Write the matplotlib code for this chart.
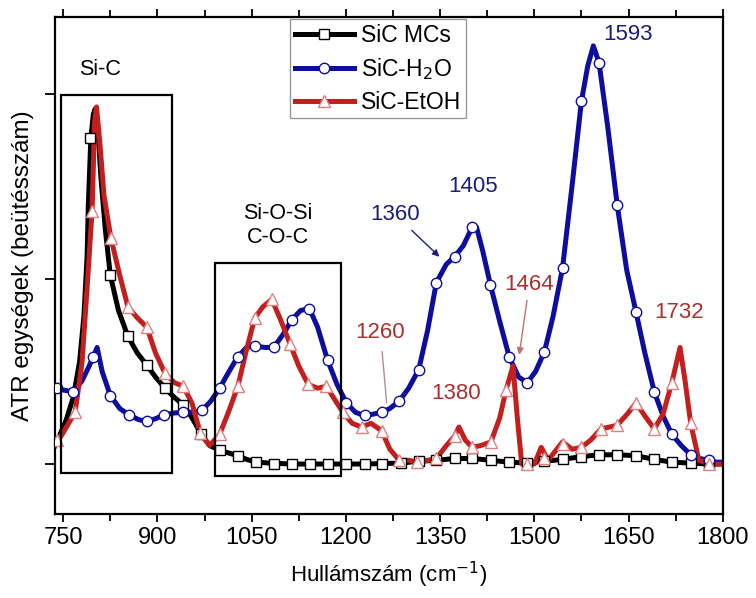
import numpy as np
import matplotlib
matplotlib.use('Agg')
from matplotlib import pyplot as plt
from matplotlib.lines import Line2D
from matplotlib.patches import Rectangle

plt.rcParams['font.family'] = ['Liberation Sans', 'DejaVu Sans']

''' Data read off the spectrum '''
# SiC MCs (black, squares)
mcs_x = [737, 745, 755, 766, 776, 783, 788, 790, 794, 798, 801, 805, 810, 817, 825, 838,
         853, 868, 883, 897, 912, 927, 941, 955, 970, 983, 999, 1013, 1028, 1042, 1057,
         1080, 1114, 1171, 1230, 1287, 1316, 1344, 1373, 1401, 1431, 1460, 1489, 1516,
         1545, 1575, 1603, 1632, 1662, 1691, 1719, 1749, 1778, 1800]
mcs_y = [0.10, 0.16, 0.24, 0.36, 0.55, 0.80, 1.12, 1.40, 1.76, 1.89, 1.92, 1.82, 1.55, 1.27,
         1.02, 0.83, 0.69, 0.60, 0.535, 0.47, 0.41, 0.36, 0.32, 0.25, 0.16, 0.10, 0.075, 0.06,
         0.045, 0.025, 0.01, 0.005, 0.0, 0.0, 0.0, 0.005, 0.015, 0.02, 0.03, 0.03, 0.02,
         0.01, 0.005, 0.015, 0.025, 0.04, 0.05, 0.05, 0.045, 0.025, 0.01, 0.005, 0.0, 0.0]
mcs_mx = [793, 825, 853, 883, 912, 941, 970, 999, 1028, 1057, 1085, 1114, 1143, 1171, 1201,
          1230, 1258, 1287, 1316, 1344, 1373, 1401, 1431, 1460, 1489, 1516, 1545, 1575,
          1603, 1632, 1662, 1691, 1719, 1749, 1778]
mcs_my = [1.76, 1.02, 0.69, 0.535, 0.41, 0.32, 0.16, 0.075, 0.045, 0.01, 0.0, 0.0, 0.0, 0.0,
          0.0, 0.0, 0.0, 0.005, 0.015, 0.02, 0.03, 0.03, 0.02, 0.01, 0.005, 0.015, 0.025,
          0.04, 0.05, 0.05, 0.045, 0.025, 0.01, 0.005, 0.0]

# SiC-H2O (blue, circles)
h2o_x = [737, 750, 766, 780, 790, 798, 804, 812, 825, 840, 855, 870, 883, 897, 910, 925,
         940, 955, 971, 985, 999, 1014, 1028, 1042, 1055, 1070, 1085, 1100, 1114, 1128,
         1142, 1155, 1171, 1186, 1201, 1215, 1230, 1244, 1257, 1270, 1285, 1300, 1316,
         1330, 1344, 1360, 1373, 1387, 1401, 1408, 1418, 1430, 1445, 1460, 1475, 1489,
         1502, 1516, 1530, 1545, 1560, 1575, 1585, 1594, 1603, 1617, 1632, 1647, 1662,
         1676, 1691, 1705, 1719, 1734, 1749, 1763, 1778, 1790, 1800]
h2o_y = [0.40, 0.40, 0.39, 0.45, 0.52, 0.58, 0.63, 0.50, 0.37, 0.30, 0.265, 0.24, 0.23,
         0.245, 0.265, 0.275, 0.28, 0.28, 0.29, 0.34, 0.41, 0.50, 0.58, 0.63, 0.64, 0.63,
         0.63, 0.70, 0.78, 0.83, 0.84, 0.74, 0.56, 0.43, 0.33, 0.28, 0.26, 0.27, 0.28, 0.30,
         0.34, 0.41, 0.51, 0.72, 0.98, 1.08, 1.12, 1.18, 1.28, 1.28, 1.15, 0.97, 0.77, 0.58,
         0.47, 0.44, 0.50, 0.605, 0.80, 1.06, 1.50, 1.96, 2.15, 2.26, 2.17, 1.82, 1.40, 1.05,
         0.82, 0.60, 0.39, 0.26, 0.16, 0.10, 0.05, 0.03, 0.02, 0.01, 0.01]
h2o_mx = [740, 766, 798, 825, 855, 883, 910, 940, 971, 999, 1028, 1055, 1085, 1114, 1142,
          1171, 1201, 1230, 1257, 1285, 1316, 1344, 1373, 1401, 1430, 1460, 1489, 1516,
          1545, 1575, 1603, 1632, 1662, 1691, 1719, 1749, 1778]
h2o_my = [0.41, 0.39, 0.58, 0.37, 0.265, 0.23, 0.265, 0.28, 0.29, 0.41, 0.58, 0.64, 0.63,
          0.78, 0.84, 0.56, 0.33, 0.265, 0.28, 0.34, 0.51, 0.98, 1.12, 1.28, 0.97, 0.58,
          0.44, 0.605, 1.06, 1.96, 2.17, 1.40, 0.82, 0.39, 0.16, 0.05, 0.02]

# SiC-EtOH (red, triangles)
etoh_x = [737, 750, 769, 780, 788, 796, 800, 803, 808, 815, 826, 840, 853, 868, 883, 897,
          912, 927, 941, 955, 968, 983, 999, 1013, 1028, 1042, 1055, 1068, 1082, 1096,
          1111, 1125, 1140, 1155, 1169, 1182, 1195, 1210, 1225, 1240, 1257, 1270, 1285,
          1300, 1314, 1330, 1344, 1360, 1373, 1380, 1390, 1401, 1415, 1431, 1445, 1455,
          1466, 1473, 1480, 1500, 1511, 1522, 1545, 1560, 1575, 1590, 1606, 1620, 1632,
          1648, 1662, 1676, 1691, 1705, 1719, 1732, 1740, 1749, 1762, 1780, 1800]
etoh_y = [0.10, 0.17, 0.28, 0.55, 0.95, 1.37, 1.85, 1.93, 1.75, 1.45, 1.22, 1.02, 0.85,
          0.79, 0.74, 0.60, 0.49, 0.44, 0.42, 0.33, 0.17, 0.10, 0.16, 0.28, 0.42, 0.62, 0.79,
          0.85, 0.89, 0.78, 0.65, 0.53, 0.43, 0.41, 0.42, 0.35, 0.28, 0.22, 0.20, 0.22, 0.18,
          0.08, 0.02, 0.02, 0.01, 0.02, 0.03, 0.10, 0.15, 0.20, 0.13, 0.09, 0.10, 0.12, 0.25,
          0.40, 0.53, 0.25, 0.0, 0.0, 0.09, 0.02, 0.12, 0.08, 0.09, 0.13, 0.19, 0.20, 0.21,
          0.27, 0.33, 0.26, 0.19, 0.27, 0.44, 0.63, 0.45, 0.22, 0.02, 0.0, 0.0]
etoh_mx = [740, 769, 796, 826, 853, 883, 912, 941, 968, 999, 1028, 1055, 1082, 1111, 1140,
           1169, 1195, 1225, 1257, 1285, 1314, 1344, 1373, 1401, 1431, 1455, 1489, 1516,
           1545, 1575, 1606, 1632, 1662, 1691, 1719, 1749, 1778]
etoh_my = [0.13, 0.28, 1.37, 1.22, 0.85, 0.74, 0.49, 0.42, 0.17, 0.16, 0.42, 0.79, 0.89,
           0.65, 0.43, 0.42, 0.28, 0.20, 0.18, 0.02, 0.01, 0.03, 0.15, 0.09, 0.12, 0.40, 0.0,
           0.03, 0.11, 0.09, 0.19, 0.21, 0.33, 0.19, 0.44, 0.22, 0.0]

''' Styles '''
BLACK = '#000000'
BLUE = '#0d0d9e'
RED = '#c41f1f'
BLUE_TXT = '#1c1c7a'
RED_TXT = '#a8302e'

fig = plt.figure(figsize=(7.56, 5.98), dpi=100)
ax = fig.add_axes([0.0728, 0.1405, 0.8832, 0.8311])

series = [
    (mcs_x, mcs_y, mcs_mx, mcs_my, BLACK, 's', 6.5, 'SiC MCs'),
    (h2o_x, h2o_y, h2o_mx, h2o_my, BLUE, 'o', 7.5, 'SiC-H$_2$O'),
    (etoh_x, etoh_y, etoh_mx, etoh_my, RED, '^', 8, 'SiC-EtOH'),
]
handles = []
for x, y, mx, my, col, mk, ms, lab in series:
    ax.plot(x, y, color=col, lw=3.6, solid_joinstyle='round', zorder=2)
    edge = '#e08080' if mk == '^' else col
    ax.plot(mx, my, ls='none', marker=mk, ms=ms, mfc='white', mec=edge, mew=1.0, zorder=3)
    handles.append(Line2D([], [], color=col, lw=3.6, marker=mk, ms=ms, mfc='white',
                          mec=edge, mew=1.0))

# Band boxes
ax.add_patch(Rectangle((747, -0.05), 176, 2.045, fill=False, ec='black', lw=1.6, zorder=4))
ax.add_patch(Rectangle((991.5, -0.065), 201.5, 1.151, fill=False, ec='black', lw=1.6, zorder=4))
ax.text(809, 2.13, 'Si-C', fontsize=15.5, ha='center', va='center')
ax.text(1092, 1.29, 'Si-O-Si\nC-O-C', fontsize=15.5, ha='center', va='center',
        linespacing=1.15)

# Peak labels
ax.text(1649, 2.32, '1593', color=BLUE_TXT, fontsize=16, ha='center', va='center')
ax.text(1403, 1.50, '1405', color=BLUE_TXT, fontsize=16, ha='center', va='center')
ax.annotate('1360', xy=(1349, 1.12), xytext=(1278, 1.35), color=BLUE_TXT, fontsize=16,
            ha='center', va='center',
            arrowprops=dict(arrowstyle='-|>', color=BLUE_TXT, lw=1.0,
                            shrinkA=3, shrinkB=0, mutation_scale=10))
ax.annotate('1464', xy=(1476, 0.59), xytext=(1492, 0.97), color=RED_TXT, fontsize=16,
            ha='center', va='center',
            arrowprops=dict(arrowstyle='-|>', color='#c07070', lw=1.0,
                            shrinkA=2, shrinkB=0, mutation_scale=10))
ax.annotate('1260', xy=(1265, 0.33), xytext=(1255, 0.71), color=RED_TXT, fontsize=16,
            ha='center', va='center',
            arrowprops=dict(arrowstyle='-', color='#b09090', lw=1.0,
                            shrinkA=4, shrinkB=0))
ax.text(1376, 0.38, '1380', color=RED_TXT, fontsize=16, ha='center', va='center')
ax.text(1730, 0.82, '1732', color=RED_TXT, fontsize=16, ha='center', va='center')

# Axes, ticks
ax.set_xlim(737, 1800)
ax.set_ylim(-0.27, 2.416)
ax.set_xticks(np.arange(750, 1801, 150))
ax.set_xticks(np.arange(825, 1800, 150), minor=True)
ax.set_yticks([0, 1, 2])
ax.set_yticklabels([])
ax.tick_params(axis='x', which='both', direction='out', top=True, labelsize=17, width=1.3)
ax.tick_params(axis='x', which='major', length=6)
ax.tick_params(axis='x', which='minor', length=5)
ax.tick_params(axis='y', direction='out', length=7, width=1.3)
for s in ax.spines.values():
    s.set_linewidth(1.6)

ax.set_xlabel('Hullámszám (cm$^{-1}$)', fontsize=16, labelpad=8)
ax.set_ylabel('ATR egységek (beütésszám)', fontsize=17.5, labelpad=5)

leg = ax.legend(handles, [s[-1] for s in series], loc='upper left',
                bbox_to_anchor=(0.352, 0.996), fontsize=16.5, frameon=True,
                fancybox=False, edgecolor='#808080', borderpad=0.2,
                handlelength=2.6, handletextpad=0.3, labelspacing=0.4,
                borderaxespad=0)
leg.get_frame().set_linewidth(1.0)

plt.savefig('out.png', dpi=100)
